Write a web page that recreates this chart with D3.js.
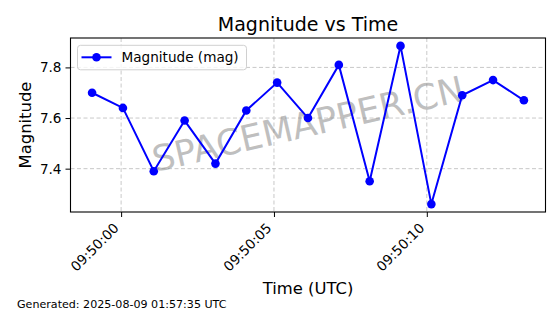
<!DOCTYPE html>
<html>
<head>
<meta charset="utf-8">
<script src="https://cdn.jsdelivr.net/npm/d3@7"></script>
<style>
  body { margin: 0; background: white; }
  svg { font-family: "DejaVu Sans", sans-serif; display: block; }
</style>
</head>
<body>
<div class="container"></div>
<script>
// Data
const times = ["09:49:59.050", "09:50:00.059", "09:50:01.068", "09:50:02.077", "09:50:03.086",
    "09:50:04.095", "09:50:05.104", "09:50:06.113", "09:50:07.122", "09:50:08.131",
    "09:50:09.140", "09:50:10.149", "09:50:11.158", "09:50:12.167", "09:50:13.176"]
const magnitudes = [7.70, 7.64, 7.39, 7.59, 7.42, 7.63, 7.74, 7.60, 7.81, 7.35, 7.885, 7.26, 7.69, 7.75, 7.67]
const yTicks = [7.4, 7.6, 7.8]
const seriesName = "Magnitude (mag)"
const footer = "Generated: 2025-08-09 01:57:35 UTC"

const parse = d3.utcParse("%H:%M:%S.%L")
const data = times.map((t, i) => ({time: parse(t), mag: magnitudes[i]}))

let outerWidth = 560
let outerHeight = 314
let margin = {top: 38, bottom: 102, left: 70.5, right: 14.5}
let width = outerWidth - margin.left - margin.right
let height = outerHeight - margin.top - margin.bottom

const root = d3.select(".container")
    .append("svg")
    .attr("width", outerWidth)
    .attr("height", outerHeight)

const svg = root.append("g")
    .attr("transform", `translate(${margin.left}, ${margin.top})`)

// matplotlib-like 5% padding
function padded(ext) {
    const p = (ext[1] - ext[0]) * 0.05
    return [ext[0] - p, ext[1] + p]
}
const tExt = d3.extent(data, d => +d.time)
const xScale = d3.scaleUtc()
    .domain(padded(tExt).map(v => new Date(v)))
    .range([0, width])

const yScale = d3.scaleLinear()
    .domain(padded(d3.extent(data, d => d.mag)))
    .range([height, 0])

const xTicks = xScale.ticks(d3.utcSecond.every(5))

// Grid
svg.append("g").selectAll("line")
    .data(xTicks)
    .enter().append("line")
    .attr("x1", d => xScale(d)).attr("x2", d => xScale(d))
    .attr("y1", 0).attr("y2", height)
    .attr("stroke", "#b0b0b0").attr("stroke-opacity", 0.7)
    .attr("stroke-dasharray", "4,2.5").attr("stroke-width", 1)

svg.append("g").selectAll("line")
    .data(yTicks)
    .enter().append("line")
    .attr("x1", 0).attr("x2", width)
    .attr("y1", d => yScale(d)).attr("y2", d => yScale(d))
    .attr("stroke", "#b0b0b0").attr("stroke-opacity", 0.7)
    .attr("stroke-dasharray", "4,2.5").attr("stroke-width", 1)

// Watermark
svg.append("text")
    .text("SPACEMAPPER.CN")
    .attr("transform", `translate(${width / 2}, ${height / 2 - 1}) rotate(-13)`)
    .attr("text-anchor", "middle")
    .attr("dominant-baseline", "central")
    .attr("font-size", 35.5)
    .attr("fill", "#808080")
    .attr("fill-opacity", 0.5)

// Axes
const xAxis = d3.axisBottom(xScale)
    .tickValues(xTicks)
    .tickFormat(d3.utcFormat("%H:%M:%S"))
    .tickSize(5)
    .tickPadding(4)

const yAxis = d3.axisLeft(yScale)
    .tickValues(yTicks)
    .tickFormat(d3.format(".1f"))
    .tickSize(5)
    .tickPadding(4)

let x = svg.append("g")
    .attr("transform", `translate(0, ${height})`)
    .call(xAxis)
x.select(".domain").remove()
x.selectAll(".tick line").attr("stroke", "black")
x.selectAll(".tick text")
    .attr("font-size", 13.6)
    .attr("font-family", "DejaVu Sans")
    .attr("fill", "black")
    .attr("text-anchor", "end")
    .attr("y", 0).attr("dy", 0)
    .attr("transform", "translate(-2, 17) rotate(-45)")

let y = svg.append("g").call(yAxis)
y.select(".domain").remove()
y.selectAll(".tick line").attr("stroke", "black")
y.selectAll(".tick text")
    .attr("font-size", 13.6)
    .attr("font-family", "DejaVu Sans")
    .attr("fill", "black")

// Line and markers
const line = d3.line()
    .x(d => xScale(d.time))
    .y(d => yScale(d.mag))

svg.append("path")
    .datum(data)
    .attr("fill", "none")
    .attr("stroke", "#0000ff")
    .attr("stroke-width", 2)
    .attr("d", line)

svg.selectAll(".pt")
    .data(data)
    .enter()
    .append("circle")
    .attr("cx", d => xScale(d.time))
    .attr("cy", d => yScale(d.mag))
    .attr("r", 4.3)
    .attr("fill", "#0000ff")

// Frame
svg.append("rect")
    .attr("width", width).attr("height", height)
    .attr("fill", "none").attr("stroke", "black").attr("stroke-width", 1.1)

// Legend
const leg = svg.append("g").attr("transform", "translate(7, 7.3)")
leg.append("rect")
    .attr("width", 169).attr("height", 24.5)
    .attr("rx", 3)
    .attr("fill", "white").attr("fill-opacity", 0.8)
    .attr("stroke", "#d0d0d0")
leg.append("line")
    .attr("x1", 4).attr("x2", 34).attr("y1", 12).attr("y2", 12)
    .attr("stroke", "#0000ff").attr("stroke-width", 2)
leg.append("circle")
    .attr("cx", 19).attr("cy", 12).attr("r", 4.3).attr("fill", "#0000ff")
leg.append("text")
    .text(seriesName)
    .attr("x", 44).attr("y", 12)
    .attr("dominant-baseline", "central")
    .attr("font-size", 13.6)

// Titles
root.append("text")
    .text("Magnitude vs Time")
    .attr("x", margin.left + width / 2).attr("y", 31)
    .attr("text-anchor", "middle")
    .attr("font-size", 19)

root.append("text")
    .text("Time (UTC)")
    .attr("x", margin.left + width / 2).attr("y", 294)
    .attr("text-anchor", "middle")
    .attr("font-size", 16.4)

root.append("text")
    .text("Magnitude")
    .attr("transform", `translate(31, ${margin.top + height / 2}) rotate(-90)`)
    .attr("text-anchor", "middle")
    .attr("font-size", 16.4)

root.append("text")
    .text(footer)
    .attr("x", 17).attr("y", 308)
    .attr("font-size", 11.1)
</script>
</body>
</html>
